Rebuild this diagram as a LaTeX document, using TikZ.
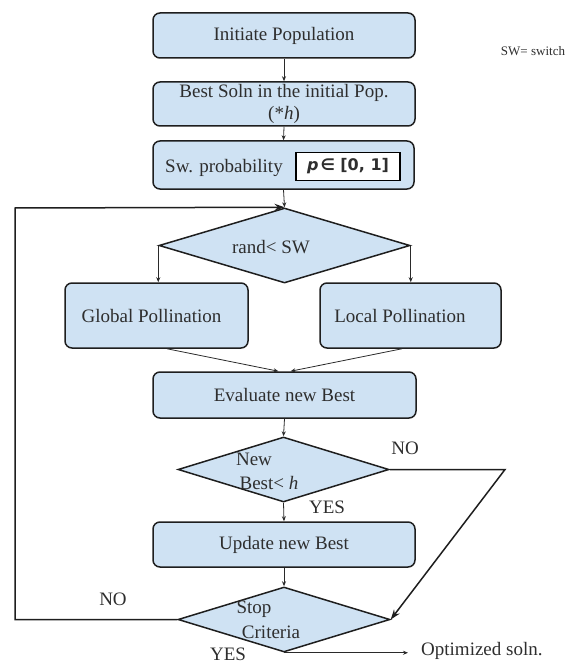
\documentclass[tikz,border=0pt]{standalone}
\usepackage{fontspec}
\setmainfont{Liberation Serif}
\newfontfamily\pfont{DejaVu Sans}
\usetikzlibrary{shapes.geometric,arrows.meta}
\definecolor{fillc}{HTML}{CFE2F3}
\definecolor{bordc}{HTML}{1E1E1E}
\definecolor{linec}{HTML}{2A2A2A}
\definecolor{textc}{HTML}{2E2E2E}
\newcommand{\mainsize}{\fontsize{19}{22}\selectfont}
\tikzset{
  box/.style={draw=bordc, fill=fillc, line width=1.5pt, rounded corners=7pt, inner sep=0pt, font=\mainsize, text=textc, align=center},
  dia/.style={diamond, draw=bordc, fill=fillc, line width=1.5pt, inner sep=0pt},
  txt/.style={font=\mainsize, text=textc, inner sep=0pt},
  arr/.style={-{Stealth[length=5pt,width=4pt]}, line width=0.8pt, draw=linec},
  thickarr/.style={-{Stealth[length=10pt,width=7pt]}, line width=1.5pt, draw=bordc},
}
\begin{document}
\begin{tikzpicture}[x=1pt,y=-1pt]
\useasboundingbox (0,0) rectangle (566,663);
% boxes
\node[box, minimum width=262pt, minimum height=45pt] (init) at (284,35.5) {Initiate Population};
\node[box, minimum width=262pt, minimum height=44pt] (best) at (284,104) {Best Soln in the initial Pop.\\(*\textit{h})};
\node[box, minimum width=261pt, minimum height=48pt] (sw) at (283.5,165) {};
\node[txt] (swtxt) at (224,168) {Sw. probability};
\node[draw=black, fill=white, line width=1.6pt, minimum width=104pt, minimum height=28pt, inner sep=0pt] (pbox) at (348,166.5) {\fontsize{16}{18}\selectfont\pfont\bfseries\color{textc}{\itshape p}\hspace{2pt}∈ [0, 1]};
\node[font=\fontsize{13}{15}\selectfont, text=textc, inner sep=0pt] (swnote) at (533,51) {SW= switch};
% decision 1
\node[dia, minimum width=251pt, minimum height=75pt] (d1) at (284.5,245.5) {};
\node[txt] (d1txt) at (271,247) {rand< SW};
\node[box, minimum width=183pt, minimum height=65pt] (glob) at (156.5,315.5) {Global Pollination\hspace*{10pt}};
\node[box, minimum width=181pt, minimum height=65pt] (loc) at (410.5,315.5) {Local Pollination\hspace*{21pt}};
\node[box, minimum width=263pt, minimum height=46pt] (eval) at (284.5,395) {Evaluate new Best};
% decision 2
\node[dia, minimum width=211pt, minimum height=65pt] (d2) at (283.5,469.5) {};
\node[txt] (d2a) at (254,459) {New};
\node[txt] (d2b) at (269,483) {Best< \textit{h}};
\node[box, minimum width=262pt, minimum height=45pt] (upd) at (284,544.5) {Update new Best};
% decision 3
\node[dia, minimum width=212pt, minimum height=65pt] (d3) at (284,619.5) {};
\node[txt] (d3a) at (254,609) {Stop};
\node[txt] (d3b) at (271,632) {Criteria};
% labels
\node[txt] (no1) at (405,448) {NO};
\node[txt] (yes1) at (327,507) {YES};
\node[txt] (no2) at (113,599) {NO};
\node[txt] (yes2) at (228,654) {YES};
\node[txt, anchor=west] (opt) at (421,651) {Optimized soln.};
% coordinates
\coordinate (nobend) at (505,469.5);
\coordinate (looptl) at (15,208);
% connectors
\draw[arr] (init.south) -- (best.north);
\draw[arr] (best.south) -- (sw.north);
\draw[arr] (sw.south) -- (d1.north);
\draw[arr] (d1.west) -- (d1.west |- glob.north);
\draw[arr] (d1.east) -- (d1.east |- loc.north);
\draw[arr] ([xshift=10.5pt]glob.south) -- ([xshift=-6pt]eval.north);
\draw[arr] ([xshift=-8.5pt]loc.south) -- ([xshift=6pt]eval.north);
\draw[arr] (eval.south) -- (d2.north);
\draw[arr] (d2.south) -- (upd.north);
\draw[arr] (upd.south) -- (d3.north);
\draw[thickarr] (d2.east) -- (nobend) -- (d3.east);
\draw[thickarr, rounded corners=0pt] (d3.west) -- (d3.west -| looptl) -- (looptl) -- (d1.north);
\draw[arr] (d3.south) -- ([xshift=-13pt]opt.west |- d3.south);
\end{tikzpicture}
\end{document}
